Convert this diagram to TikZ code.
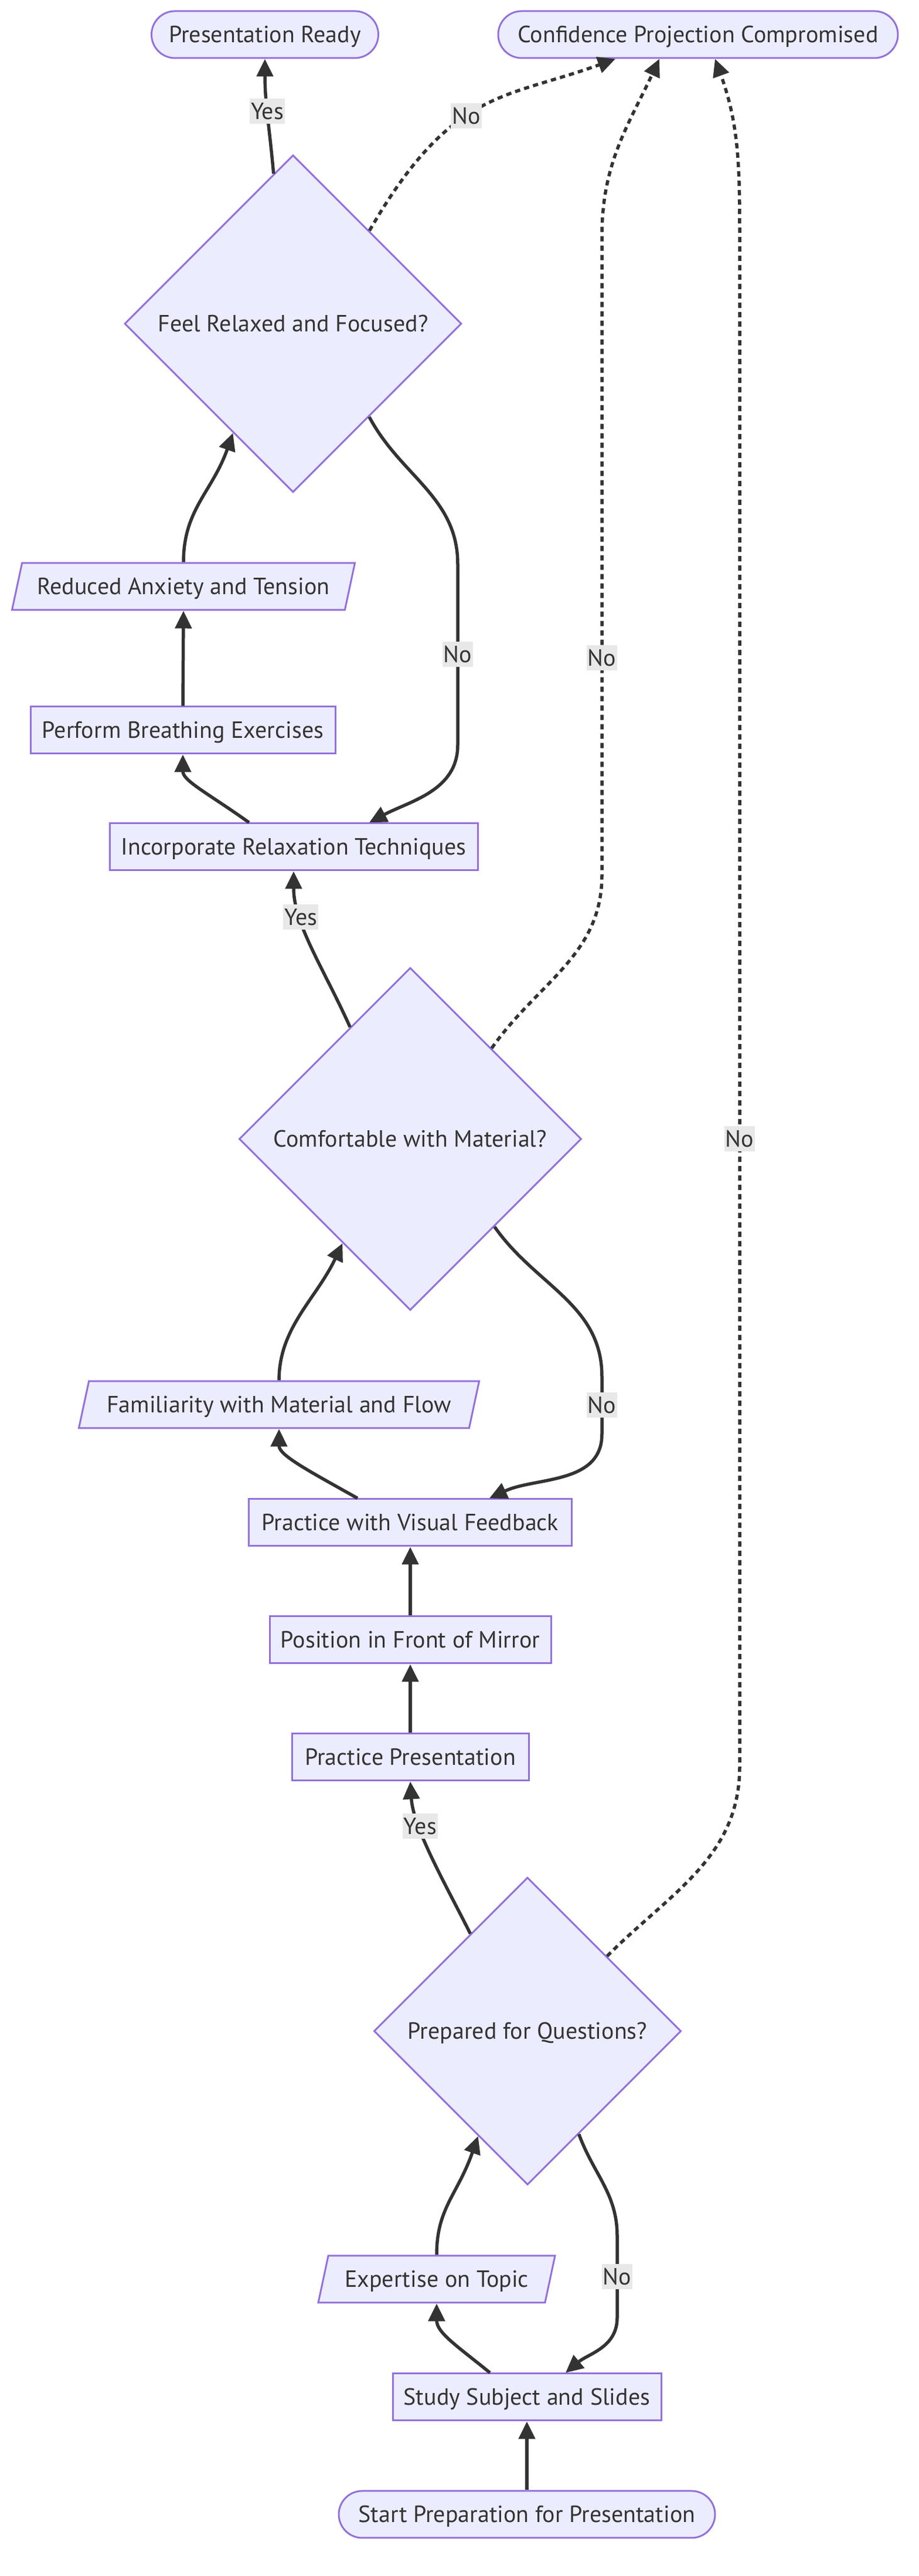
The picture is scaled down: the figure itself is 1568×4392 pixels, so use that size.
\documentclass[tikz,border=0pt]{standalone}
\usepackage{fontspec}
\setmainfont{PT Sans}
\usepackage{tikz}
\usepackage{xcolor}
\usetikzlibrary{arrows.meta,shapes.geometric,calc}

\definecolor{boxfill}{HTML}{ECECFF}
\definecolor{boxline}{HTML}{9370DB}
\definecolor{ink}{HTML}{333333}
\definecolor{tagfill}{HTML}{E8E8E8}

\begin{document}
\begin{tikzpicture}[x=1pt,y=1pt,
  every node/.style={font=\fontsize{40}{48}\selectfont,text=ink},
  proc/.style={rectangle,draw=boxline,fill=boxfill,line width=3pt,minimum height=80pt,
    inner xsep=18pt,text height=28pt,text depth=0pt},
  term/.style={proc,rounded corners=40pt},
  io/.style={proc,trapezium,trapezium left angle=63.7,trapezium right angle=116.3,
    trapezium stretches body},
  ask/.style={diamond,aspect=1,draw=boxline,fill=boxfill,line width=3pt,inner sep=0pt,
    text height=28pt,text depth=0pt},
  flow/.style={draw=ink,line width=5.5pt,-{Triangle[length=30pt,width=28pt]}},
  noflow/.style={flow,dash pattern=on 9pt off 7pt},
  tag/.style={fill=tagfill,inner xsep=2pt,inner ysep=0.5pt,text height=35pt,text depth=7pt}]
\useasboundingbox (0,0) rectangle (1568,4392);

\node[term,minimum width=387pt] (ready) at (452,4333) {Presentation Ready};
\node[term,minimum width=682pt] (lost) at (1191,4333) {Confidence Projection Compromised};
\node[ask,minimum size=575pt] (calm) at (500,3840) {Feel Relaxed and Focused?};
\node[io,minimum width=585pt] (eased) at (313,3392) {Reduced Anxiety and Tension};
\node[proc,minimum width=520pt] (breathe) at (312,3147) {Perform Breathing Exercises};
\node[proc,minimum width=628pt] (relax) at (501,2948) {Incorporate Relaxation Techniques};
\node[ask,minimum size=584pt] (comfy) at (700,2450) {Comfortable with Material?};
\node[io,minimum width=683pt] (fluent) at (476,1997) {Familiarity with Material and Flow};
\node[proc,minimum width=551pt] (visual) at (700,1796) {Practice with Visual Feedback};
\node[proc,minimum width=480pt] (mirror) at (700,1596) {Position in Front of Mirror};
\node[proc,minimum width=404pt] (practice) at (700,1396) {Practice Presentation};
\node[ask,minimum size=524pt] (qready) at (900,929) {Prepared for Questions?};
\node[io,minimum width=404pt] (expert) at (745,506) {Expertise on Topic};
\node[proc,minimum width=458pt] (study) at (899,305) {Study Subject and Slides};
\node[term,minimum width=642pt] (start) at (899,105) {Start Preparation for Presentation};

% preparation loop
\draw[flow] (start.north) -- (study.south);
\draw[flow] ([xshift=-63pt]study.north) .. controls +(-55,45) and +(0,-50) .. (expert.south);
\draw[flow] (expert.north) .. controls +(0,80) and +(-35,-100) .. ($(qready.west)!0.68!(qready.south)$);
\draw[flow] ($(qready.east)!0.667!(qready.south)$) to[out=-70,in=90] (1053,580)
  -- node[tag]{No} (1053,440) to[out=-90,in=40] ([xshift=66pt]study.north);
\draw[flow] ($(qready.west)!0.63!(qready.north)$) .. controls +(-40,80) and +(5,-80) ..
  node[tag,pos=0.7]{Yes} (practice.south);

% mirror practice
\draw[flow] (practice.north) -- (mirror.south);
\draw[flow] (mirror.north) -- (visual.south);
\draw[flow] ([xshift=-90pt]visual.north) .. controls +(-80,45) and +(0,-45) .. (fluent.south);
\draw[flow] (fluent.north) .. controls +(0,90) and +(-45,-95) .. ($(comfy.west)!0.606!(comfy.south)$);
\draw[flow] ($(comfy.east)!0.51!(comfy.south)$) to[out=-55,in=90] (1027,2045)
  -- node[tag]{No} (1027,1947) to[out=-90,in=25] ([xshift=135pt]visual.north);
\draw[flow] ($(comfy.west)!0.65!(comfy.north)$) .. controls +(-45,100) and +(0,-90) ..
  node[tag,pos=0.7]{Yes} (relax.south);

% relaxation
\draw[flow] ([xshift=-76pt]relax.north) .. controls +(-70,50) and +(0,-45) .. (breathe.south);
\draw[flow] (breathe.north) -- (eased.south);
\draw[flow] (eased.north) .. controls +(0,90) and +(-35,-100) .. ($(calm.west)!0.645!(calm.south)$);
\draw[flow] ($(calm.east)!0.55!(calm.south)$) to[out=-62,in=90] (781,3430)
  -- node[tag]{No} (781,3122) to[out=-90,in=28] ([xshift=129pt]relax.north);
\draw[flow] ($(calm.west)!0.885!(calm.north)$) to[out=95,in=-90] node[tag,pos=0.55]{Yes} (ready.south);

% failure branches
\draw[noflow] ($(calm.east)!0.549!(calm.north)$) to[out=60,in=-160,out looseness=1.4] node[tag,pos=0.43]{No} ([xshift=-141pt]lost.south);
\draw[noflow] ($(comfy.east)!0.527!(comfy.north)$) to[out=55,in=-90] (1027,2900)
  -- node[tag,pos=0.34]{No} (1027,3990) to[out=90,in=-115] ([xshift=-66pt]lost.south);
\draw[noflow] ($(qready.east)!0.485!(qready.north)$) to[out=45,in=-90] (1262,1380)
  -- node[tag,pos=0.41]{No} (1262,3992) to[out=90,in=-70] ([xshift=29pt]lost.south);
\end{tikzpicture}
\end{document}
